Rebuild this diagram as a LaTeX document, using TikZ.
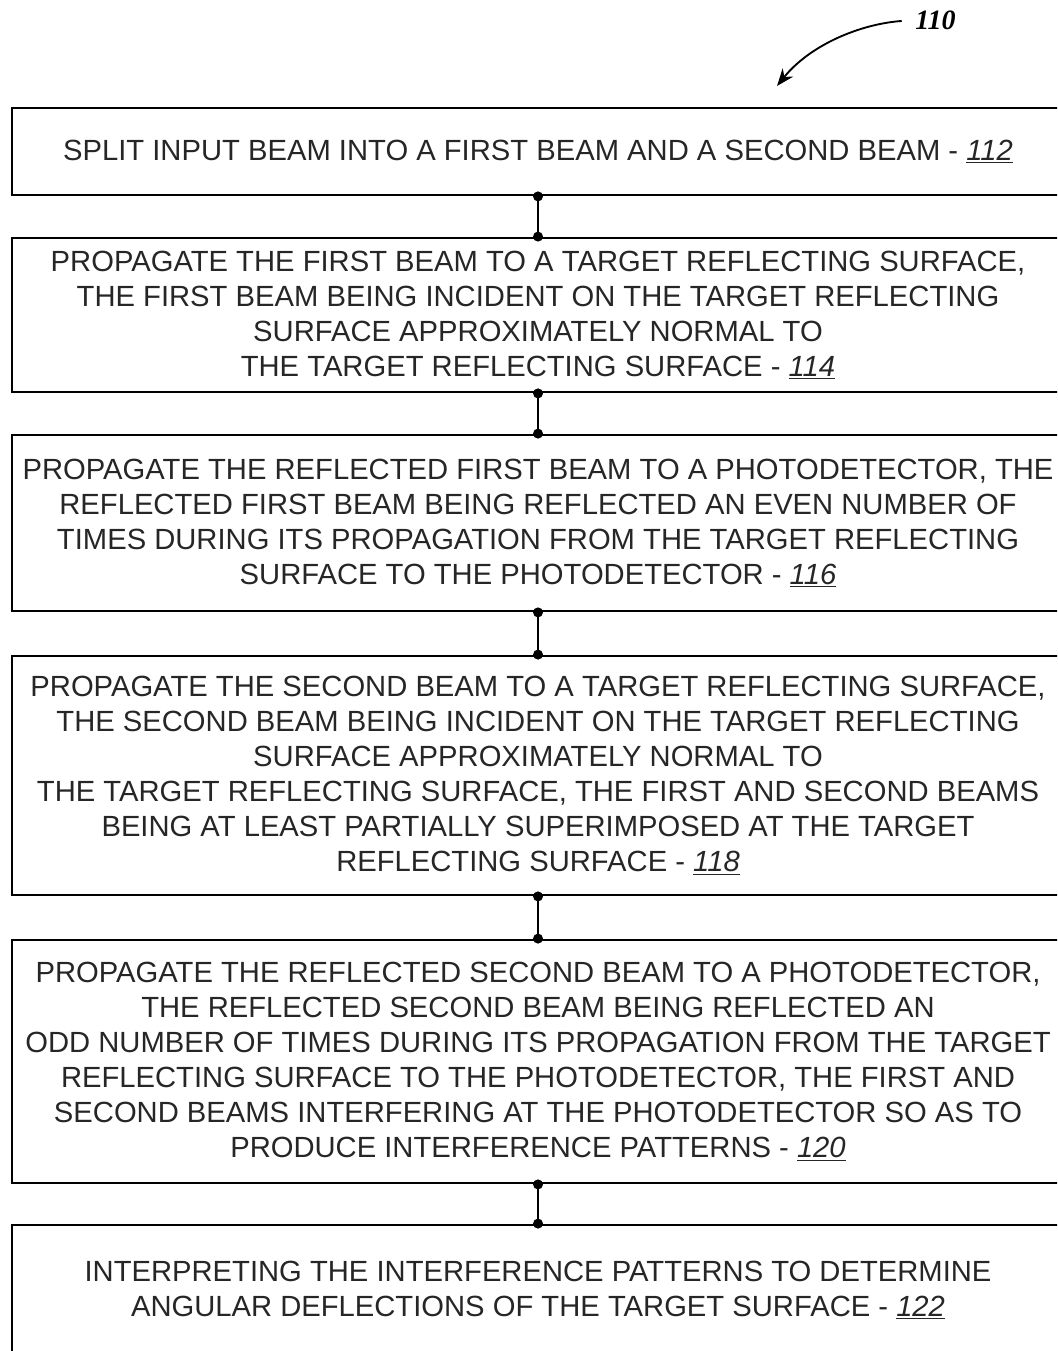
\documentclass[tikz,border=0pt]{standalone}
\usepackage{fontspec}
\setmainfont{Liberation Sans}
\newfontfamily\labelfont{Liberation Serif}
\usetikzlibrary{arrows.meta}
\begin{document}
\begin{tikzpicture}[x=0.75pt,y=-0.75pt,
  box/.style={draw=black,line width=2.1pt,rectangle,minimum width=789pt,inner sep=0pt,align=center,
    font=\fontsize{21.9}{26.3}\selectfont,text=black!85},
  dot/.style={circle,fill=black,inner sep=0pt,minimum size=7.5pt},
  link/.style={line width=2pt}]
\useasboundingbox (0,0) rectangle (1057,1351);
\clip (0,0) rectangle (1057,1351);
\node[box,minimum height=65.25pt] (b1) at (538,151.5) {SPLIT INPUT BEAM INTO A FIRST BEAM AND A SECOND BEAM - \underline{\textit{112}}};
\node[box,minimum height=115.5pt] (b2) at (538,315) {PROPAGATE THE FIRST BEAM TO A TARGET REFLECTING SURFACE,\\THE FIRST BEAM BEING INCIDENT ON THE TARGET REFLECTING\\SURFACE APPROXIMATELY NORMAL TO\\THE TARGET REFLECTING SURFACE - \underline{\textit{114}}};
\node[box,minimum height=132pt] (b3) at (538,523) {PROPAGATE THE REFLECTED FIRST BEAM TO A PHOTODETECTOR, THE\\REFLECTED FIRST BEAM BEING REFLECTED AN EVEN NUMBER OF\\TIMES DURING ITS PROPAGATION FROM THE TARGET REFLECTING\\SURFACE TO THE PHOTODETECTOR - \underline{\textit{116}}};
\node[box,minimum height=179.25pt] (b4) at (538,775.5) {PROPAGATE THE SECOND BEAM TO A TARGET REFLECTING SURFACE,\\THE SECOND BEAM BEING INCIDENT ON THE TARGET REFLECTING\\SURFACE APPROXIMATELY NORMAL TO\\THE TARGET REFLECTING SURFACE, THE FIRST AND SECOND BEAMS\\BEING AT LEAST PARTIALLY SUPERIMPOSED AT THE TARGET\\REFLECTING SURFACE - \underline{\textit{118}}};
\node[box,minimum height=182.25pt] (b5) at (538,1061.5) {PROPAGATE THE REFLECTED SECOND BEAM TO A PHOTODETECTOR,\\THE REFLECTED SECOND BEAM BEING REFLECTED AN\\ODD NUMBER OF TIMES DURING ITS PROPAGATION FROM THE TARGET\\REFLECTING SURFACE TO THE PHOTODETECTOR, THE FIRST AND\\SECOND BEAMS INTERFERING AT THE PHOTODETECTOR SO AS TO\\PRODUCE INTERFERENCE PATTERNS - \underline{\textit{120}}};
\node[box,minimum height=97.5pt] (b6) at (538,1290) {INTERPRETING THE INTERFERENCE PATTERNS TO DETERMINE\\ANGULAR DEFLECTIONS OF THE TARGET SURFACE - \underline{\textit{122}}};
\foreach \a/\b in {b1/b2,b2/b3,b3/b4,b4/b5,b5/b6}{
  \draw[link] (\a.south) -- (\b.north);
  \node[dot] at (\a.south) {};
  \node[dot] at (\b.north) {};
}
\node[font=\labelfont\fontsize{21}{22}\selectfont\bfseries\itshape,anchor=west,inner sep=0pt] (lbl) at (915,20) {110};
\coordinate (tip) at (777,86);
\draw[line width=1.4pt,shorten <=10pt,-{Stealth[length=13pt,width=10pt]}] (lbl.west) .. controls (860,24) and (810,45) .. (tip);
\end{tikzpicture}
\end{document}
